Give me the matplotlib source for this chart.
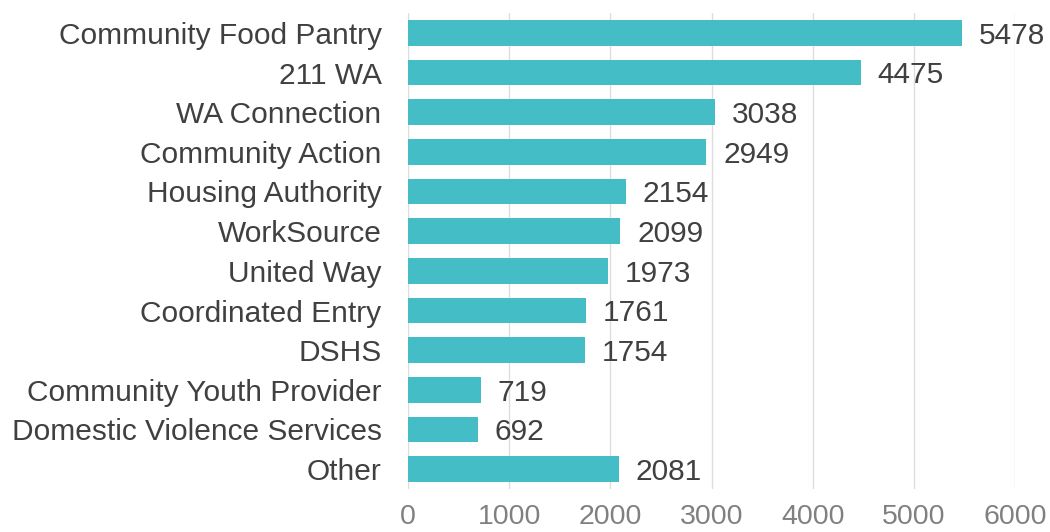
import matplotlib
matplotlib.use("Agg")
import matplotlib.pyplot as plt

categories = ["Community Food Pantry", "211 WA", "WA Connection", "Community Action",
              "Housing Authority", "WorkSource", "United Way", "Coordinated Entry",
              "DSHS", "Community Youth Provider", "Domestic Violence Services", "Other"]
values = [5478, 4475, 3038, 2949, 2154, 2099, 1973, 1761, 1754, 719, 692, 2081]
xticks = [0, 1000, 2000, 3000, 4000, 5000, 6000]

plt.rcParams['font.family'] = ['Liberation Sans', 'DejaVu Sans']

fig = plt.figure(figsize=(10.5, 5.32), dpi=100)
ax = fig.add_axes([408/1050, 1-489/532, (1015-408)/1050, (489-13)/532])

ypos = list(range(len(categories)))
ax.barh(ypos, values, height=0.65, color="#45BDC6", zorder=3)
ax.set_ylim(len(categories) - 0.5, -0.5)
ax.set_xlim(0, 6000)
ax.set_xticks(xticks)
ax.set_xticklabels([str(t) for t in xticks])
ax.set_yticks(ypos)
ax.set_yticklabels(categories)

ax.tick_params(axis='y', length=0, pad=19, labelsize=21.5, labelcolor="#404040")
ax.tick_params(axis='x', length=0, pad=11, labelsize=20.5, labelcolor="#808080")

for s in ax.spines.values():
    s.set_visible(False)
ax.grid(axis='x', color="#DDDDDD", linewidth=1, zorder=0)
ax.set_axisbelow(True)

for y, v in zip(ypos, values):
    ax.annotate(str(v), xy=(v, y), xytext=(12, -2), textcoords='offset points',
                ha='left', va='center', fontsize=21.5, color="#404040",
                annotation_clip=False)

fig.savefig("out.png", dpi=100)
